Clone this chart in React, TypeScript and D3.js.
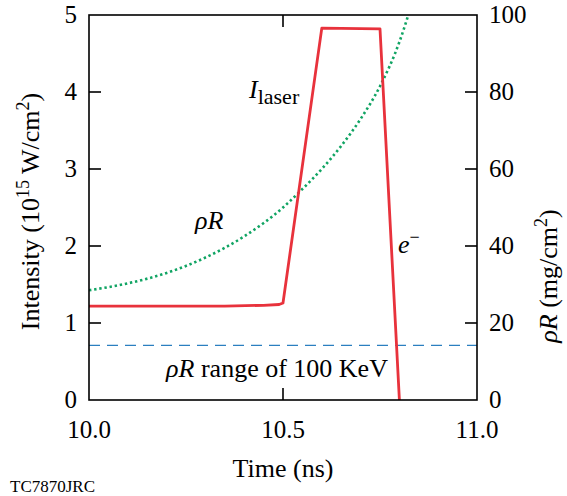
import React from 'react';
import * as d3 from 'd3';

// laser intensity (10^15 W/cm^2) vs time (ns)
const laserTime = [10.0, 10.2, 10.35, 10.45, 10.49, 10.5, 10.6, 10.75, 10.8];
const laserIntensity = [1.22, 1.22, 1.22, 1.23, 1.24, 1.26, 4.83, 4.82, 0];

// areal density rho R (mg/cm^2) vs time (ns)
const rhoTime = [10.0, 10.1, 10.2, 10.3, 10.4, 10.5, 10.55, 10.6, 10.65, 10.7, 10.75, 10.8, 10.823];
const rhoValue = [28.5, 30.3, 33.0, 37.0, 42.5, 50.0, 54.8, 60.0, 66.0, 73.0, 81.5, 93.0, 100];

// range of 100 keV electrons, in intensity-axis units
const rangeLevel = 0.71;

const xTicks = [10.0, 10.5, 11.0];
const leftTicks = [0, 1, 2, 3, 4, 5];
const rightTicks = [0, 20, 40, 60, 80, 100];

const W = 567;
const H = 496;
const m = { left: 89, right: 90, top: 15, bottom: 96 };
const FONT = 'Liberation Serif, DejaVu Serif, serif';

export default function App() {
  const x = d3.scaleLinear().domain([10, 11]).range([m.left, W - m.right]);
  const yL = d3.scaleLinear().domain([0, 5]).range([H - m.bottom, m.top]);
  const yR = d3.scaleLinear().domain([0, 100]).range([H - m.bottom, m.top]);

  const laserLine = d3
    .line<number>()
    .x((_, i) => x(laserTime[i]))
    .y((d) => yL(d))(laserIntensity);

  const rhoLine = d3
    .line<number>()
    .x((_, i) => x(rhoTime[i]))
    .y((d) => yR(d))
    .curve(d3.curveMonotoneX)(rhoValue);

  const x0 = x.range()[0];
  const x1 = x.range()[1];
  const y0 = yL.range()[0];
  const y1 = yL.range()[1];
  const tick = 12;

  return (
    <svg width={W} height={H} style={{ position: 'absolute', left: 0, top: 0, background: '#fff', fontFamily: FONT }}>
      <defs>
        <clipPath id="plot">
          <rect x={x0} y={y1} width={x1 - x0} height={y0 - y1} />
        </clipPath>
      </defs>

      <g clipPath="url(#plot)">
        <line x1={x0} x2={x1} y1={yL(rangeLevel)} y2={yL(rangeLevel)} stroke="#2b7fc0" strokeWidth={1.3} strokeDasharray="11,7" />
        <path d={rhoLine ?? ''} fill="none" stroke="#10a463" strokeWidth={2.6} strokeDasharray="2.4,2.8" />
        <path d={laserLine ?? ''} fill="none" stroke="#e8323c" strokeWidth={2.8} strokeLinejoin="round" />
      </g>

      {/* frame */}
      <rect x={x0} y={y1} width={x1 - x0} height={y0 - y1} fill="none" stroke="#000" strokeWidth={1.6} />

      {/* left axis */}
      {leftTicks.map((t) => (
        <g key={'l' + t}>
          {t > 0 && t < 5 && <line x1={x0} x2={x0 + tick} y1={yL(t)} y2={yL(t)} stroke="#000" strokeWidth={1.6} />}
          <text x={x0 - 12} y={yL(t) + 8} textAnchor="end" fontSize={25}>{t}</text>
        </g>
      ))}

      {/* right axis */}
      {rightTicks.map((t) => (
        <g key={'r' + t}>
          {t > 0 && t < 100 && <line x1={x1} x2={x1 - tick} y1={yR(t)} y2={yR(t)} stroke="#000" strokeWidth={1.6} />}
          <text x={x1 + 12} y={yR(t) + 8} textAnchor="start" fontSize={25}>{t}</text>
        </g>
      ))}

      {/* bottom / top axis */}
      {xTicks.map((t) => (
        <g key={'x' + t}>
          {t > 10 && t < 11 && (
            <>
              <line x1={x(t)} x2={x(t)} y1={y0} y2={y0 - tick} stroke="#000" strokeWidth={1.6} />
              <line x1={x(t)} x2={x(t)} y1={y1} y2={y1 + tick} stroke="#000" strokeWidth={1.6} />
            </>
          )}
          <text x={x(t)} y={y0 + 38} textAnchor="middle" fontSize={25}>{t.toFixed(1)}</text>
        </g>
      ))}

      {/* axis titles */}
      <text x={x((10 + 11) / 2)} y={477} textAnchor="middle" fontSize={26}>Time (ns)</text>
      <text transform={`translate(39,${(y0 + y1) / 2 + 4}) rotate(-90)`} textAnchor="middle" fontSize={26}>
        Intensity (10<tspan dy={-10} fontSize={18}>15</tspan><tspan dy={10}> W/cm</tspan><tspan dy={-10} fontSize={18}>2</tspan><tspan dy={10}>)</tspan>
      </text>
      <text transform={`translate(557,276) rotate(-90)`} textAnchor="middle" fontSize={26}>
        <tspan fontStyle="italic">ρR</tspan> (mg/cm<tspan dy={-10} fontSize={18}>2</tspan><tspan dy={10}>)</tspan>
      </text>

      {/* annotations */}
      <text x={249} y={98} fontSize={26}>
        <tspan fontStyle="italic">I</tspan><tspan dy={6} fontSize={22}>laser</tspan>
      </text>
      <text x={195} y={229} fontSize={26} fontStyle="italic">ρR</text>
      <text x={398} y={253} fontSize={26}>
        <tspan fontStyle="italic">e</tspan><tspan dy={-10} fontSize={18}>−</tspan>
      </text>
      <text x={x(10.5) - 6} y={377} textAnchor="middle" fontSize={26}>
        <tspan fontStyle="italic">ρR</tspan> range of 100 KeV
      </text>

      <text x={10} y={492} fontSize={17}>TC7870JRC</text>
    </svg>
  );
}
